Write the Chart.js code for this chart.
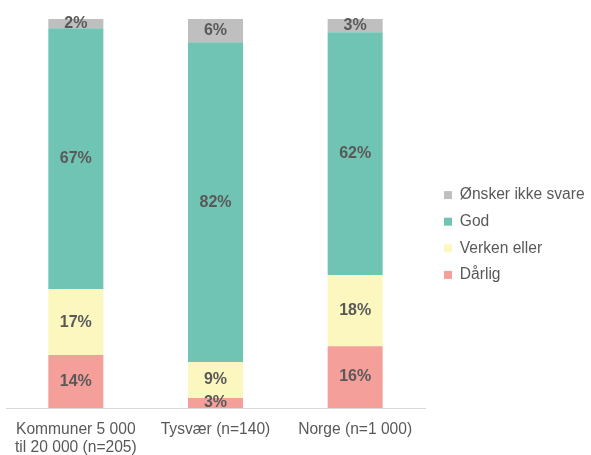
<!DOCTYPE html>
<html>
<head>
<meta charset="utf-8">
<script src="https://cdn.jsdelivr.net/npm/chart.js@4"></script>
<style>
  body { margin: 0; background: #fff; }
  #wrap { width: 591px; height: 455px; }
</style>
</head>
<body>
<div id="wrap"><canvas id="chart"></canvas></div>
<script>
const categories = [['Kommuner 5 000', 'til 20 000 (n=205)'], 'Tysvær (n=140)', 'Norge (n=1 000)'];
const darlig = [13.6, 2.6, 15.9];
const verken = [16.9, 9.2, 18.3];
const god = [67.1, 82.2, 62.4];
const onskerIkke = [2.4, 6.0, 3.4];

const textColor = '#595959';
const fontFamily = '"Liberation Sans", Arial, sans-serif';

// Percent labels in the middle of every segment
const segmentLabels = {
  id: 'segmentLabels',
  afterDatasetsDraw(chart) {
    const ctx = chart.ctx;
    ctx.save();
    ctx.font = 'bold 16px ' + fontFamily;
    ctx.fillStyle = textColor;
    ctx.textAlign = 'center';
    ctx.textBaseline = 'middle';
    chart.data.datasets.forEach((ds, i) => {
      chart.getDatasetMeta(i).data.forEach((bar, j) => {
        const mid = (bar.y + bar.base) / 2;
        ctx.fillText(Math.round(ds.data[j]) + '%', bar.x, mid);
      });
    });
    ctx.restore();
  }
};

// Nudge the legend so the plot keeps its width and the items sit where they should
const legendNudge = {
  id: 'legendNudge',
  beforeLayout(chart) {
    const lg = chart.legend;
    if (!lg || lg._nudged) return;
    const fit = lg.fit;
    lg.fit = function () {
      fit.call(this);
      this.width = 166;
    };
    const draw = lg.draw;
    lg.draw = function () {
      this.ctx.save();
      this.ctx.translate(8, -2);
      draw.call(this);
      this.ctx.restore();
    };
    lg._nudged = true;
  }
};

new Chart(document.getElementById('chart'), {
  type: 'bar',
  data: {
    labels: categories,
    datasets: [
      { label: 'Dårlig', data: darlig, backgroundColor: '#F59F9A' },
      { label: 'Verken eller', data: verken, backgroundColor: '#FCF7BF' },
      { label: 'God', data: god, backgroundColor: '#70C4B3' },
      { label: 'Ønsker ikke svare', data: onskerIkke, backgroundColor: '#BFBFBF' }
    ]
  },
  options: {
    responsive: true,
    maintainAspectRatio: false,
    animation: false,
    devicePixelRatio: 1,
    layout: { padding: { left: 6, top: 19, right: 0, bottom: 0 } },
    datasets: { bar: { barPercentage: 1, categoryPercentage: 0.394 } },
    scales: {
      x: {
        stacked: true,
        grid: { display: false, drawTicks: false },
        border: { color: '#D9D9D9', width: 1 },
        afterFit(scale) { scale.height = 47; },
        ticks: {
          color: textColor,
          padding: 13,
          maxRotation: 0,
          font: { family: fontFamily, size: 15.6, lineHeight: 1.13 }
        }
      },
      y: { stacked: true, display: false, min: 0, max: 100 }
    },
    plugins: {
      tooltip: { enabled: false },
      legend: {
        position: 'right',
        reverse: true,
        labels: {
          boxWidth: 8,
          boxHeight: 8,
          padding: 11,
          color: textColor,
          font: { family: fontFamily, size: 15.6 }
        }
      }
    }
  },
  plugins: [segmentLabels, legendNudge]
});
</script>
</body>
</html>
